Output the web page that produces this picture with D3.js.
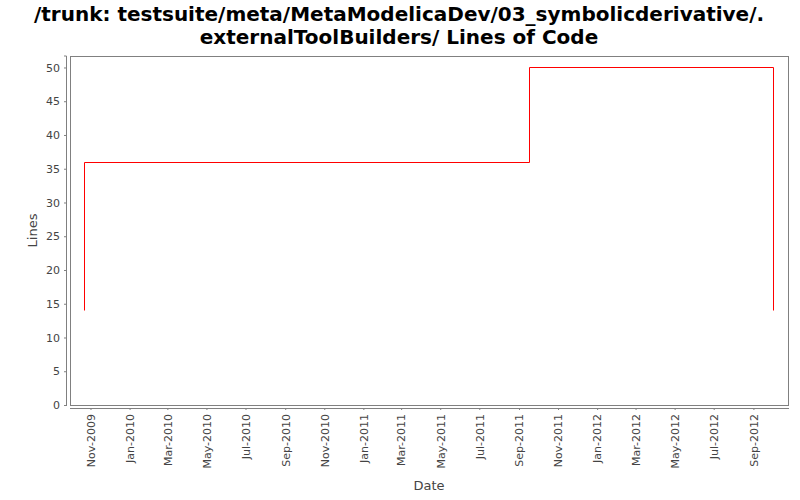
<!DOCTYPE html>
<html><head><meta charset="utf-8">
<script src="https://cdn.jsdelivr.net/npm/d3@7"></script>
<style>body{margin:0;background:#fff}svg{display:block}</style>
</head><body>
<svg id="c" width="800" height="500"></svg>
<script>
const titleLines = ["/trunk: testsuite/meta/MetaModelicaDev/03_symbolicderivative/.", "externalToolBuilders/ Lines of Code"];
const dates = ["2009-10-22", "2009-10-22", "2011-09-17", "2012-10-02"];
const lines = [14, 36, 50, 14];
const yTicks = [0, 5, 10, 15, 20, 25, 30, 35, 40, 45, 50];
const xTickDates = ["2009-11-01","2010-01-01","2010-03-01","2010-05-01","2010-07-01","2010-09-01","2010-11-01","2011-01-01","2011-03-01","2011-05-01","2011-07-01","2011-09-01","2011-11-01","2012-01-01","2012-03-01","2012-05-01","2012-07-01","2012-09-01"];
const xDomain = ["2009-09-30", "2012-10-25"];
const yDomain = [0, 51.7];

const parse = d3.utcParse("%Y-%m-%d");
const svg = d3.select("#c");
const L = 70, R = 788, T = 56, B = 405;
const x = d3.scaleUtc().domain(xDomain.map(parse)).range([L, R]);
const y = d3.scaleLinear().domain(yDomain).range([B, T]);

// title
svg.append("g").selectAll("text").data(titleLines).join("text")
  .attr("x", 399).attr("y", (d,i)=>21 + i*23)
  .attr("text-anchor","middle")
  .attr("font-family","'DejaVu Sans',sans-serif")
  .attr("font-weight","bold").attr("font-size",20).attr("fill","#000")
  .text(d=>d);

// plot box
svg.append("rect").attr("x",L+0.5).attr("y",T+0.5).attr("width",R-L).attr("height",B-T)
  .attr("fill","#fff").attr("stroke","#808080").attr("stroke-width",1);

// y axis
const yAxis = svg.append("g").attr("transform",`translate(${L-4},0)`)
  .call(d3.axisLeft(y).tickValues(yTicks).tickSize(2).tickPadding(4));
yAxis.select(".domain").attr("stroke","#808080").attr("d",`M-2,${T}H0.5V${B+1}`);
yAxis.selectAll(".tick line").attr("stroke","#808080");
yAxis.selectAll("text").attr("font-family","'DejaVu Sans',sans-serif").attr("font-size",11).attr("fill","#444");

// x axis
const xAxis = svg.append("g").attr("transform",`translate(0,${B+3})`)
  .call(d3.axisBottom(x).tickValues(xTickDates.map(parse)).tickSize(2).tickFormat(d3.utcFormat("%b-%Y")));
xAxis.select(".domain").attr("stroke","#808080").attr("d",`M${L},0.5H${R+1}`);
xAxis.selectAll(".tick line").attr("stroke","#808080");
xAxis.selectAll("text").attr("font-family","'DejaVu Sans',sans-serif").attr("font-size",11).attr("fill","#444")
  .attr("transform","rotate(-90)").attr("text-anchor","end").attr("x",-6).attr("y",0).attr("dy","0.35em");

// axis labels
svg.append("text").attr("x",(L+R)/2).attr("y",490).attr("text-anchor","middle")
  .attr("font-family","'DejaVu Sans',sans-serif").attr("font-size",13).attr("fill","#444").text("Date");
svg.append("text").attr("transform",`translate(37,${(T+B)/2}) rotate(-90)`).attr("text-anchor","middle")
  .attr("font-family","'DejaVu Sans',sans-serif").attr("font-size",13).attr("fill","#444").text("Lines");

// step line: horizontal then vertical segments (step-after)
const data = dates.map((d,i)=>({t:parse(d), v:lines[i]}));
const px = d => Math.round(x(d.t)) + 0.5, py = d => Math.round(y(d.v)) + 0.5;
const segs = [];
for (let i = 1; i < data.length; i++) {
  segs.push({x1: px(data[i-1]), y1: py(data[i-1]), x2: px(data[i]), y2: py(data[i-1])});
  segs.push({x1: px(data[i]), y1: py(data[i-1]), x2: px(data[i]), y2: py(data[i])});
}
svg.append("g").selectAll("line").data(segs).join("line")
  .attr("x1", d=>d.x1).attr("y1", d=>d.y1).attr("x2", d=>d.x2).attr("y2", d=>d.y2)
  .attr("stroke","#ff0000").attr("stroke-width",1);
</script>
</body></html>
